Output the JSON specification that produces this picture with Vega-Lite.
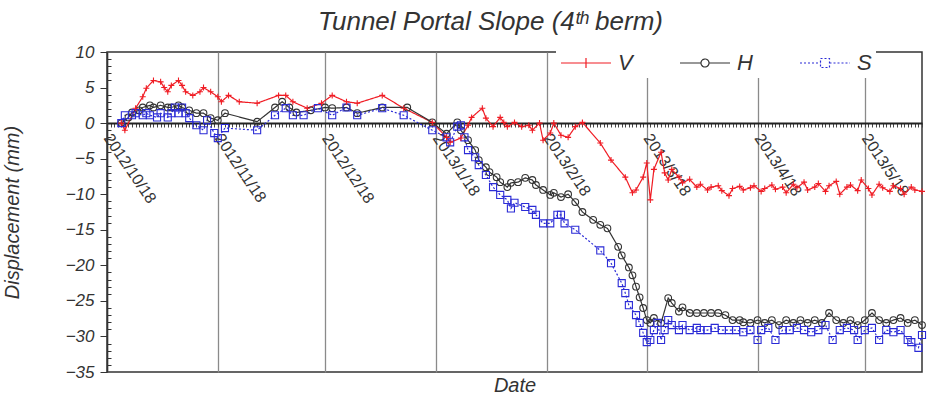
{
  "$schema": "https://vega.github.io/schema/vega-lite/v6.json",
  "width": 815,
  "height": 320,
  "autosize": "none",
  "padding": {"left": 107, "top": 52, "right": 7, "bottom": 23},
  "background": "white",
  "title": {"text": "Tunnel Portal Slope (4ᵗʰ berm)", "font": "Liberation Sans", "fontStyle": "italic", "fontWeight": "normal", "fontSize": 26, "color": "#333333", "anchor": "middle", "dx": -24, "dy": 6},
  "config": {"view": {"stroke": "#333333", "strokeWidth": 1.5}},
  "data": {"values": [
    {"t":"2012/10/22","s":"V","y":0},{"t":"2012/10/23","s":"V","y":-1},{"t":"2012/10/26","s":"V","y":2.1},{"t":"2012/10/28","s":"V","y":3.7},{"t":"2012/10/29","s":"V","y":4.9},{"t":"2012/10/31","s":"V","y":6},{"t":"2012/11/2","s":"V","y":5.8},{"t":"2012/11/3","s":"V","y":5},{"t":"2012/11/4","s":"V","y":4.4},{"t":"2012/11/5","s":"V","y":5.3},{"t":"2012/11/7","s":"V","y":6},{"t":"2012/11/8","s":"V","y":5.3},{"t":"2012/11/9","s":"V","y":4.4},{"t":"2012/11/11","s":"V","y":3.9},{"t":"2012/11/13","s":"V","y":4.4},{"t":"2012/11/14","s":"V","y":5},{"t":"2012/11/16","s":"V","y":4.4},{"t":"2012/11/18","s":"V","y":3.7},{"t":"2012/11/19","s":"V","y":3},{"t":"2012/11/21","s":"V","y":3.9},{"t":"2012/11/24","s":"V","y":3},{"t":"2012/11/29","s":"V","y":2.8},{"t":"2012/12/5","s":"V","y":3.9},{"t":"2012/12/7","s":"V","y":3.9},{"t":"2012/12/9","s":"V","y":3},{"t":"2012/12/13","s":"V","y":2.1},{"t":"2012/12/17","s":"V","y":2.8},{"t":"2012/12/20","s":"V","y":3.9},{"t":"2012/12/24","s":"V","y":3},{"t":"2012/12/27","s":"V","y":2.8},{"t":"2013/1/3","s":"V","y":3.9},{"t":"2013/1/9","s":"V","y":2.1},{"t":"2013/1/17","s":"V","y":0.1},{"t":"2013/1/21","s":"V","y":-2},{"t":"2013/1/22","s":"V","y":-2.7},{"t":"2013/1/25","s":"V","y":-2.1},{"t":"2013/1/27","s":"V","y":-0.3},{"t":"2013/1/28","s":"V","y":0.8},{"t":"2013/1/31","s":"V","y":2.1},{"t":"2013/2/1","s":"V","y":0.7},{"t":"2013/2/3","s":"V","y":-0.5},{"t":"2013/2/5","s":"V","y":0.8},{"t":"2013/2/6","s":"V","y":0.1},{"t":"2013/2/7","s":"V","y":-0.5},{"t":"2013/2/9","s":"V","y":0.1},{"t":"2013/2/11","s":"V","y":-0.5},{"t":"2013/2/13","s":"V","y":-0.3},{"t":"2013/2/14","s":"V","y":-1},{"t":"2013/2/16","s":"V","y":0},{"t":"2013/2/17","s":"V","y":-2.4},{"t":"2013/2/19","s":"V","y":-1.4},{"t":"2013/2/20","s":"V","y":0},{"t":"2013/2/22","s":"V","y":-1.7},{"t":"2013/2/24","s":"V","y":-2},{"t":"2013/2/26","s":"V","y":-0.5},{"t":"2013/2/28","s":"V","y":0.1},{"t":"2013/3/5","s":"V","y":-2.8},{"t":"2013/3/8","s":"V","y":-5.2},{"t":"2013/3/12","s":"V","y":-7.6},{"t":"2013/3/14","s":"V","y":-9.8},{"t":"2013/3/15","s":"V","y":-9.4},{"t":"2013/3/17","s":"V","y":-7.6},{"t":"2013/3/18","s":"V","y":-5.6},{"t":"2013/3/19","s":"V","y":-10.8},{"t":"2013/3/20","s":"V","y":-6.5},{"t":"2013/3/22","s":"V","y":-4.1},{"t":"2013/3/23","s":"V","y":-7},{"t":"2013/3/24","s":"V","y":-8},{"t":"2013/3/25","s":"V","y":-6.5},{"t":"2013/3/27","s":"V","y":-7.6},{"t":"2013/3/28","s":"V","y":-8.4},{"t":"2013/3/30","s":"V","y":-7.9},{"t":"2013/4/1","s":"V","y":-9},{"t":"2013/4/2","s":"V","y":-8.6},{"t":"2013/4/4","s":"V","y":-9.4},{"t":"2013/4/5","s":"V","y":-9},{"t":"2013/4/7","s":"V","y":-8.8},{"t":"2013/4/8","s":"V","y":-9.5},{"t":"2013/4/10","s":"V","y":-10.2},{"t":"2013/4/11","s":"V","y":-9.2},{"t":"2013/4/13","s":"V","y":-8.9},{"t":"2013/4/14","s":"V","y":-9.4},{"t":"2013/4/16","s":"V","y":-9.1},{"t":"2013/4/17","s":"V","y":-8.8},{"t":"2013/4/19","s":"V","y":-9.6},{"t":"2013/4/20","s":"V","y":-9.2},{"t":"2013/4/22","s":"V","y":-8.7},{"t":"2013/4/23","s":"V","y":-9.3},{"t":"2013/4/25","s":"V","y":-9},{"t":"2013/4/26","s":"V","y":-9.8},{"t":"2013/4/28","s":"V","y":-8.6},{"t":"2013/4/29","s":"V","y":-9.1},{"t":"2013/5/1","s":"V","y":-8.3},{"t":"2013/5/2","s":"V","y":-9.4},{"t":"2013/5/4","s":"V","y":-9},{"t":"2013/5/5","s":"V","y":-8.5},{"t":"2013/5/7","s":"V","y":-9.6},{"t":"2013/5/8","s":"V","y":-8.8},{"t":"2013/5/10","s":"V","y":-8.2},{"t":"2013/5/11","s":"V","y":-10},{"t":"2013/5/13","s":"V","y":-9},{"t":"2013/5/14","s":"V","y":-8.7},{"t":"2013/5/16","s":"V","y":-9.5},{"t":"2013/5/17","s":"V","y":-8},{"t":"2013/5/19","s":"V","y":-9.2},{"t":"2013/5/20","s":"V","y":-10.1},{"t":"2013/5/22","s":"V","y":-8.6},{"t":"2013/5/23","s":"V","y":-9.1},{"t":"2013/5/25","s":"V","y":-9.6},{"t":"2013/5/26","s":"V","y":-8.8},{"t":"2013/5/28","s":"V","y":-9.2},{"t":"2013/5/29","s":"V","y":-10},{"t":"2013/5/31","s":"V","y":-9},{"t":"2013/6/1","s":"V","y":-9.4},{"t":"2013/6/3","s":"V","y":-9.6},

    {"t":"2012/10/22","s":"H","y":0},{"t":"2012/10/24","s":"H","y":0.8},{"t":"2012/10/25","s":"H","y":1.5},{"t":"2012/10/27","s":"H","y":1.8},{"t":"2012/10/28","s":"H","y":2.2},{"t":"2012/10/30","s":"H","y":2.5},{"t":"2012/10/31","s":"H","y":2.2},{"t":"2012/11/2","s":"H","y":2.5},{"t":"2012/11/4","s":"H","y":2.2},{"t":"2012/11/5","s":"H","y":2.2},{"t":"2012/11/7","s":"H","y":2.5},{"t":"2012/11/8","s":"H","y":2.2},{"t":"2012/11/10","s":"H","y":1.8},{"t":"2012/11/12","s":"H","y":1.4},{"t":"2012/11/14","s":"H","y":1.4},{"t":"2012/11/16","s":"H","y":0.7},{"t":"2012/11/18","s":"H","y":0.4},{"t":"2012/11/20","s":"H","y":1.4},{"t":"2012/11/29","s":"H","y":0.2},{"t":"2012/12/4","s":"H","y":2.2},{"t":"2012/12/6","s":"H","y":3},{"t":"2012/12/8","s":"H","y":2.2},{"t":"2012/12/10","s":"H","y":1.5},{"t":"2012/12/14","s":"H","y":1.8},{"t":"2012/12/18","s":"H","y":2.2},{"t":"2012/12/20","s":"H","y":2.1},{"t":"2012/12/24","s":"H","y":2.2},{"t":"2012/12/27","s":"H","y":1.4},{"t":"2013/1/3","s":"H","y":2.2},{"t":"2013/1/10","s":"H","y":2.2},{"t":"2013/1/17","s":"H","y":0.1},{"t":"2013/1/21","s":"H","y":-1.5},{"t":"2013/1/24","s":"H","y":0.1},{"t":"2013/1/25","s":"H","y":-1},{"t":"2013/1/27","s":"H","y":-2.4},{"t":"2013/1/29","s":"H","y":-3.8},{"t":"2013/1/30","s":"H","y":-5.2},{"t":"2013/2/1","s":"H","y":-6.2},{"t":"2013/2/2","s":"H","y":-6.9},{"t":"2013/2/4","s":"H","y":-7.6},{"t":"2013/2/5","s":"H","y":-8.3},{"t":"2013/2/7","s":"H","y":-9},{"t":"2013/2/8","s":"H","y":-8.4},{"t":"2013/2/10","s":"H","y":-8.3},{"t":"2013/2/12","s":"H","y":-7.7},{"t":"2013/2/14","s":"H","y":-8},{"t":"2013/2/15","s":"H","y":-8.7},{"t":"2013/2/17","s":"H","y":-9.4},{"t":"2013/2/19","s":"H","y":-10.1},{"t":"2013/2/20","s":"H","y":-9.8},{"t":"2013/2/22","s":"H","y":-10.4},{"t":"2013/2/24","s":"H","y":-10},{"t":"2013/2/26","s":"H","y":-11.1},{"t":"2013/2/28","s":"H","y":-12.5},{"t":"2013/3/3","s":"H","y":-13.6},{"t":"2013/3/5","s":"H","y":-14.3},{"t":"2013/3/7","s":"H","y":-14.8},{"t":"2013/3/10","s":"H","y":-17.4},{"t":"2013/3/11","s":"H","y":-18.6},{"t":"2013/3/13","s":"H","y":-20.3},{"t":"2013/3/14","s":"H","y":-21.4},{"t":"2013/3/15","s":"H","y":-23},{"t":"2013/3/16","s":"H","y":-24.5},{"t":"2013/3/17","s":"H","y":-26},{"t":"2013/3/18","s":"H","y":-27.7},{"t":"2013/3/19","s":"H","y":-28.1},{"t":"2013/3/20","s":"H","y":-27.4},{"t":"2013/3/22","s":"H","y":-28.1},{"t":"2013/3/24","s":"H","y":-24.6},{"t":"2013/3/25","s":"H","y":-25.3},{"t":"2013/3/27","s":"H","y":-26.5},{"t":"2013/3/28","s":"H","y":-25.9},{"t":"2013/3/30","s":"H","y":-26.7},{"t":"2013/4/1","s":"H","y":-26.7},{"t":"2013/4/3","s":"H","y":-26.7},{"t":"2013/4/5","s":"H","y":-26.7},{"t":"2013/4/7","s":"H","y":-26.7},{"t":"2013/4/9","s":"H","y":-27},{"t":"2013/4/11","s":"H","y":-27.7},{"t":"2013/4/13","s":"H","y":-27.7},{"t":"2013/4/14","s":"H","y":-28},{"t":"2013/4/16","s":"H","y":-28.1},{"t":"2013/4/18","s":"H","y":-27.7},{"t":"2013/4/20","s":"H","y":-28.1},{"t":"2013/4/22","s":"H","y":-27.7},{"t":"2013/4/24","s":"H","y":-28.4},{"t":"2013/4/26","s":"H","y":-27.7},{"t":"2013/4/28","s":"H","y":-28.1},{"t":"2013/4/30","s":"H","y":-27.7},{"t":"2013/5/2","s":"H","y":-28.1},{"t":"2013/5/4","s":"H","y":-27.7},{"t":"2013/5/6","s":"H","y":-28.1},{"t":"2013/5/8","s":"H","y":-26.7},{"t":"2013/5/10","s":"H","y":-27.7},{"t":"2013/5/12","s":"H","y":-28.1},{"t":"2013/5/14","s":"H","y":-27.7},{"t":"2013/5/16","s":"H","y":-28.4},{"t":"2013/5/18","s":"H","y":-27.7},{"t":"2013/5/20","s":"H","y":-26.7},{"t":"2013/5/22","s":"H","y":-27.7},{"t":"2013/5/24","s":"H","y":-28.1},{"t":"2013/5/26","s":"H","y":-27.7},{"t":"2013/5/28","s":"H","y":-27.4},{"t":"2013/5/30","s":"H","y":-28.1},{"t":"2013/6/1","s":"H","y":-27.7},{"t":"2013/6/3","s":"H","y":-28.4},

    {"t":"2012/10/22","s":"S","y":0},{"t":"2012/10/23","s":"S","y":1.1},{"t":"2012/10/25","s":"S","y":1.1},{"t":"2012/10/26","s":"S","y":1.4},{"t":"2012/10/28","s":"S","y":1.1},{"t":"2012/10/29","s":"S","y":1.4},{"t":"2012/10/30","s":"S","y":1.1},{"t":"2012/11/1","s":"S","y":0.8},{"t":"2012/11/2","s":"S","y":1.4},{"t":"2012/11/4","s":"S","y":0.8},{"t":"2012/11/5","s":"S","y":1.4},{"t":"2012/11/6","s":"S","y":2.2},{"t":"2012/11/7","s":"S","y":1.4},{"t":"2012/11/8","s":"S","y":2.2},{"t":"2012/11/9","s":"S","y":1.4},{"t":"2012/11/10","s":"S","y":0.7},{"t":"2012/11/12","s":"S","y":-0.3},{"t":"2012/11/14","s":"S","y":-1},{"t":"2012/11/15","s":"S","y":0.4},{"t":"2012/11/17","s":"S","y":-1.4},{"t":"2012/11/18","s":"S","y":-2.1},{"t":"2012/11/20","s":"S","y":-0.7},{"t":"2012/11/29","s":"S","y":-1},{"t":"2012/12/4","s":"S","y":1.1},{"t":"2012/12/7","s":"S","y":2.1},{"t":"2012/12/9","s":"S","y":1.1},{"t":"2012/12/12","s":"S","y":1.1},{"t":"2012/12/16","s":"S","y":2.1},{"t":"2012/12/20","s":"S","y":1.1},{"t":"2012/12/24","s":"S","y":2.2},{"t":"2012/12/27","s":"S","y":1.1},{"t":"2013/1/3","s":"S","y":2.1},{"t":"2013/1/9","s":"S","y":1.1},{"t":"2013/1/17","s":"S","y":-1},{"t":"2013/1/21","s":"S","y":-2},{"t":"2013/1/22","s":"S","y":-2.7},{"t":"2013/1/24","s":"S","y":-0.5},{"t":"2013/1/25","s":"S","y":-0.3},{"t":"2013/1/26","s":"S","y":-2},{"t":"2013/1/27","s":"S","y":-3.8},{"t":"2013/1/29","s":"S","y":-4.8},{"t":"2013/1/30","s":"S","y":-5.9},{"t":"2013/2/1","s":"S","y":-7.3},{"t":"2013/2/3","s":"S","y":-9},{"t":"2013/2/5","s":"S","y":-10.1},{"t":"2013/2/7","s":"S","y":-10.8},{"t":"2013/2/8","s":"S","y":-12},{"t":"2013/2/9","s":"S","y":-11.2},{"t":"2013/2/12","s":"S","y":-11.8},{"t":"2013/2/14","s":"S","y":-12.2},{"t":"2013/2/15","s":"S","y":-12.9},{"t":"2013/2/17","s":"S","y":-14.1},{"t":"2013/2/19","s":"S","y":-14.1},{"t":"2013/2/21","s":"S","y":-12.9},{"t":"2013/2/22","s":"S","y":-12.9},{"t":"2013/2/23","s":"S","y":-14.1},{"t":"2013/2/26","s":"S","y":-15},{"t":"2013/3/5","s":"S","y":-17.9},{"t":"2013/3/8","s":"S","y":-19.7},{"t":"2013/3/11","s":"S","y":-22.5},{"t":"2013/3/12","s":"S","y":-23.9},{"t":"2013/3/13","s":"S","y":-25.6},{"t":"2013/3/15","s":"S","y":-27},{"t":"2013/3/16","s":"S","y":-28.1},{"t":"2013/3/17","s":"S","y":-29.5},{"t":"2013/3/18","s":"S","y":-30.8},{"t":"2013/3/19","s":"S","y":-30.5},{"t":"2013/3/20","s":"S","y":-29.1},{"t":"2013/3/21","s":"S","y":-28.1},{"t":"2013/3/22","s":"S","y":-30.5},{"t":"2013/3/23","s":"S","y":-29.1},{"t":"2013/3/24","s":"S","y":-27.7},{"t":"2013/3/25","s":"S","y":-28.4},{"t":"2013/3/27","s":"S","y":-29.1},{"t":"2013/3/28","s":"S","y":-28.4},{"t":"2013/3/30","s":"S","y":-29.1},{"t":"2013/4/1","s":"S","y":-28.8},{"t":"2013/4/2","s":"S","y":-29.1},{"t":"2013/4/4","s":"S","y":-29.1},{"t":"2013/4/6","s":"S","y":-28.8},{"t":"2013/4/8","s":"S","y":-29.1},{"t":"2013/4/10","s":"S","y":-29.1},{"t":"2013/4/12","s":"S","y":-29.1},{"t":"2013/4/14","s":"S","y":-29.4},{"t":"2013/4/16","s":"S","y":-29.1},{"t":"2013/4/18","s":"S","y":-30.5},{"t":"2013/4/19","s":"S","y":-29.1},{"t":"2013/4/21","s":"S","y":-28.8},{"t":"2013/4/23","s":"S","y":-30.5},{"t":"2013/4/25","s":"S","y":-29.1},{"t":"2013/4/27","s":"S","y":-29.1},{"t":"2013/4/29","s":"S","y":-28.8},{"t":"2013/5/1","s":"S","y":-29.1},{"t":"2013/5/3","s":"S","y":-29.4},{"t":"2013/5/5","s":"S","y":-29.1},{"t":"2013/5/7","s":"S","y":-28.4},{"t":"2013/5/9","s":"S","y":-30.5},{"t":"2013/5/11","s":"S","y":-29.1},{"t":"2013/5/13","s":"S","y":-28.8},{"t":"2013/5/15","s":"S","y":-29.1},{"t":"2013/5/16","s":"S","y":-30.5},{"t":"2013/5/18","s":"S","y":-29.1},{"t":"2013/5/20","s":"S","y":-28.8},{"t":"2013/5/22","s":"S","y":-30.5},{"t":"2013/5/24","s":"S","y":-29.1},{"t":"2013/5/26","s":"S","y":-29.4},{"t":"2013/5/28","s":"S","y":-29.1},{"t":"2013/5/30","s":"S","y":-30.5},{"t":"2013/5/31","s":"S","y":-30.8},{"t":"2013/6/2","s":"S","y":-31.6},{"t":"2013/6/3","s":"S","y":-29.8}
  ]},
  "encoding": {
    "x": {
      "field": "t", "type": "temporal",
      "scale": {"domain": [{"year": 2012, "month": 10, "date": 18}, {"year": 2013, "month": 6, "date": 3}]},
      "axis": {
        "title": "Date", "titleFont": "Liberation Sans", "titleFontStyle": "italic", "titleFontWeight": "normal", "titleFontSize": 20, "titleColor": "#333333", "titleY": 252,
        "offset": -249,
        "tickCount": {"interval": "day", "step": 1},
        "labelExpr": "date(datum.value) === 18 ? timeFormat(datum.value, '%Y/%-m/%-d') : ''",
        "labelAngle": 56, "labelOverlap": false, "labelBound": false, "labelFlush": false,
        "labelFont": "Liberation Sans", "labelFontSize": 16, "labelColor": "#333333", "labelPadding": 8,
        "grid": true, "gridColor": "#8a8a8a", "gridWidth": 1.3,
        "gridOpacity": {"condition": {"test": "date(datum.value) === 18", "value": 1}, "value": 0},
        "tickSize": 4, "tickColor": "#444444", "tickWidth": 1,
        "domainColor": "#222222", "domainWidth": 2
      }
    },
    "y": {
      "field": "y", "type": "quantitative",
      "scale": {"domain": [-35, 10], "nice": false, "zero": false},
      "axis": {
        "title": "Displacement (mm)", "titleFont": "Liberation Sans", "titleFontStyle": "italic", "titleFontWeight": "normal", "titleFontSize": 20, "titleColor": "#333333", "titleX": -85,
        "values": [-35,-34,-33,-32,-31,-30,-29,-28,-27,-26,-25,-24,-23,-22,-21,-20,-19,-18,-17,-16,-15,-14,-13,-12,-11,-10,-9,-8,-7,-6,-5,-4,-3,-2,-1,0,1,2,3,4,5,6,7,8,9,10],
        "labelExpr": "datum.value % 5 === 0 ? datum.label : ''",
        "labelFont": "Liberation Sans", "labelFontStyle": "italic", "labelFontSize": 17, "labelColor": "#333333", "labelPadding": 6,
        "grid": false,
        "tickSize": {"condition": {"test": "datum.value % 5 === 0", "value": 7}, "value": -4},
        "tickColor": "#333333",
        "domainColor": "#333333", "domainWidth": 1.5
      }
    },
    "color": {
      "field": "s", "type": "nominal",
      "scale": {"domain": ["V", "H", "S"], "range": ["#f01c24", "#333333", "#2b2bd6"]},
      "legend": {
        "orient": "none", "legendX": 449, "legendY": -19, "direction": "horizontal", "title": null,
        "fillColor": "white", "padding": 4, "symbolSize": 2500, "symbolStrokeWidth": 1.2,
        "labelFont": "Liberation Sans", "labelFontStyle": "italic", "labelFontSize": 22, "labelColor": "#333333",
        "labelOffset": 6, "columnPadding": 44,
        "encode": {"symbols": {"update": {
          "shape": {"signal": "datum.value === 'V' ? 'M-1,0H1M0,-0.2V0.2' : datum.value === 'H' ? 'M-1,0H-0.16M0.16,0H1M-0.16,0A0.16,0.16 0 1,0 0.16,0A0.16,0.16 0 1,0 -0.16,0' : 'M-1,0H-0.18M0.18,0H1M-0.18,-0.18H0.18V0.18H-0.18Z'"},
          "strokeDash": {"signal": "datum.value === 'S' ? [2, 2] : [1, 0]"},
          "fill": {"value": "transparent"}
        }}}
      }
    }
  },
  "layer": [
    {
      "mark": {"type": "line", "strokeWidth": 1.2},
      "encoding": {
        "strokeDash": {"field": "s", "type": "nominal", "scale": {"domain": ["V", "H", "S"], "range": [[1, 0], [1, 0], [2, 2]]}, "legend": null}
      }
    },
    {
      "transform": [{"filter": "datum.s === 'H'"}],
      "mark": {"type": "point", "filled": false, "strokeWidth": 1.1, "opacity": 1, "shape": "circle", "size": 45}
    },
    {
      "transform": [{"filter": "datum.s === 'S'"}],
      "mark": {"type": "point", "filled": false, "strokeWidth": 1.1, "opacity": 1, "shape": "square", "size": 50}
    },
    {
      "transform": [{"filter": "datum.s === 'V'"}],
      "mark": {"type": "point", "filled": false, "strokeWidth": 1.1, "opacity": 1, "shape": "M-1,0H1M0,-1V1", "size": 36}
    }
  ]
}
